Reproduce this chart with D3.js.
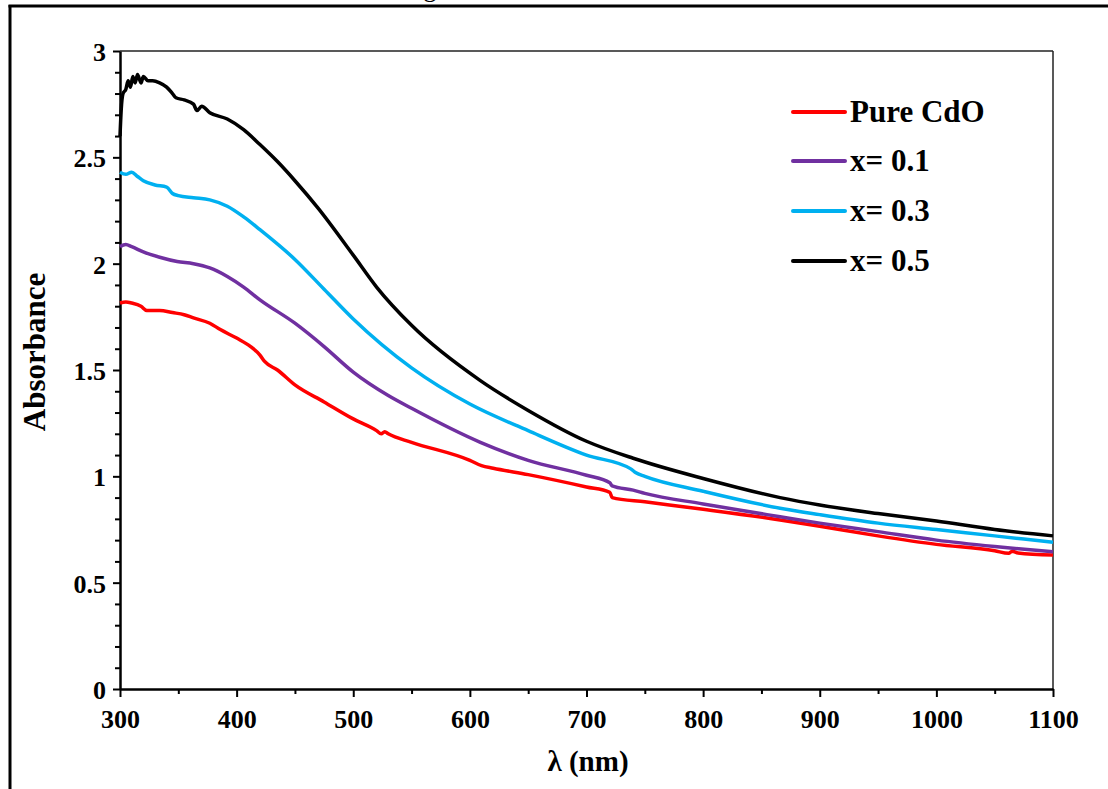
<!DOCTYPE html>
<html><head><meta charset="utf-8">
<script src="https://cdn.jsdelivr.net/npm/d3@7"></script>
<style>body{margin:0;background:#fff}svg{display:block}text{font-family:"Liberation Serif","Times New Roman",serif;font-weight:bold;fill:#000}</style>
</head><body><svg id="c" width="1108" height="789"></svg>
<script>
const seriesNames = ["Pure CdO", "x= 0.1", "x= 0.3", "x= 0.5"];
const seriesColors = ["#ff0000", "#7030a0", "#00b0f0", "#000000"];
const xTicks = [300,400,500,600,700,800,900,1000,1100];
const yTicks = [0,0.5,1,1.5,2,2.5,3];

const redWl =  [300,305,310,318,323,334,345,355,363,377,386,400,412,420,424,435,450,475,500,520,524,527,530,550,600,610,620,650,700,720,722,750,800,866,900,950,1000,1050,1062,1065,1070,1100];
const redAbs = [1.815,1.82,1.815,1.80,1.78,1.78,1.77,1.76,1.745,1.72,1.69,1.65,1.61,1.57,1.54,1.50,1.43,1.35,1.27,1.215,1.20,1.21,1.20,1.16,1.075,1.05,1.038,1.008,0.95,0.925,0.90,0.88,0.845,0.795,0.765,0.72,0.68,0.65,0.638,0.648,0.64,0.63];

const purpleWl =  [300,305,310,320,334,349,363,377,392,406,420,450,475,500,530,550,609,650,700,720,722,740,750,800,866,900,950,1000,1050,1100];
const purpleAbs = [2.08,2.09,2.08,2.055,2.03,2.01,2.00,1.98,1.94,1.89,1.83,1.72,1.61,1.49,1.38,1.32,1.16,1.075,1.005,0.97,0.955,0.935,0.92,0.87,0.81,0.78,0.74,0.70,0.67,0.645];

const blueWl =  [300,305,310,315,320,330,340,345,350,363,377,392,406,420,450,475,500,550,600,650,700,738,742,750,800,866,900,950,1000,1050,1100];
const blueAbs = [2.43,2.42,2.43,2.41,2.39,2.37,2.36,2.33,2.32,2.31,2.30,2.27,2.22,2.16,2.02,1.88,1.74,1.51,1.34,1.215,1.10,1.035,1.018,1.0,0.93,0.85,0.82,0.78,0.75,0.72,0.69];

const blackWl =  [300,301,302.6,305,307,309,311,313,315,318,320,324,328,334,340,345,348,355,363,366,370,377,392,406,420,435,450,470,500,520,550,609,650,700,740,800,866,900,950,1000,1050,1100];
const blackAbs = [2.60,2.72,2.80,2.82,2.86,2.83,2.88,2.85,2.89,2.85,2.88,2.86,2.86,2.85,2.83,2.80,2.78,2.77,2.75,2.72,2.74,2.71,2.68,2.63,2.56,2.48,2.39,2.26,2.04,1.89,1.71,1.45,1.31,1.165,1.085,0.99,0.90,0.865,0.825,0.79,0.75,0.72];

const series = [
  {wl: redWl, abs: redAbs},
  {wl: purpleWl, abs: purpleAbs},
  {wl: blueWl, abs: blueAbs},
  {wl: blackWl, abs: blackAbs}
];

const svg = d3.select("#c");
const L = 120, R = 1053, T = 51, B = 689;
const x = d3.scaleLinear().domain([300,1100]).range([L,R]);
const y = d3.scaleLinear().domain([0,3]).range([B,T]);

// outer frame (clipped figure border)
svg.append("line").attr("x1",10).attr("x2",10).attr("y1",5).attr("y2",789).attr("stroke","#000").attr("stroke-width",3);
svg.append("line").attr("x1",8.5).attr("x2",1108).attr("y1",6).attr("y2",6).attr("stroke","#000").attr("stroke-width",3);
svg.append("text").attr("x",430).attr("y",-3).attr("text-anchor","middle").style("font-size","26px").style("font-weight","normal").text("g");

// plot box top/right
svg.append("line").attr("x1",L).attr("x2",R).attr("y1",T).attr("y2",T).attr("stroke","#222").attr("stroke-width",1.5);
svg.append("line").attr("x1",R).attr("x2",R).attr("y1",T).attr("y2",B).attr("stroke","#222").attr("stroke-width",1.5);

// minor ticks
const gx = svg.append("g").attr("transform",`translate(0,${B})`);
gx.call(d3.axisBottom(x).tickValues(d3.range(350,1100,100)).tickSize(5).tickFormat(""));
const gy = svg.append("g").attr("transform",`translate(${L},0)`);
gy.call(d3.axisLeft(y).tickValues(d3.range(0,30).filter(i=>i%5!==0).map(i=>i/10)).tickSize(5).tickFormat(""));
[gx,gy].forEach(g=>{g.select(".domain").remove();g.selectAll("line").attr("stroke","#000").attr("stroke-width",2);});

// major axes
const ax = svg.append("g").attr("transform",`translate(0,${B})`)
  .call(d3.axisBottom(x).tickValues(xTicks).tickSize(8).tickSizeOuter(0).tickPadding(12).tickFormat(d3.format("d")));
const ay = svg.append("g").attr("transform",`translate(${L},0)`)
  .call(d3.axisLeft(y).tickValues(yTicks).tickSize(7).tickSizeOuter(0).tickPadding(7).tickFormat(d=>String(d)));
[ax,ay].forEach(g=>{
  g.select(".domain").attr("stroke","#000").attr("stroke-width",2.5);
  g.selectAll(".tick line").attr("stroke","#000").attr("stroke-width",2);
  g.selectAll(".tick text").style("font-size","26px").style("font-family",'"Liberation Serif",serif').style("font-weight","bold").attr("fill","#000");
});
ay.selectAll(".tick text").attr("dy","0.36em");
ax.selectAll(".tick text").attr("dy","0.72em");

// lines
const line = d3.line().x(d=>x(d[0])).y(d=>y(d[1])).curve(d3.curveMonotoneX);
series.forEach((s,i)=>{
  const pts = s.wl.map((w,j)=>[w,s.abs[j]]);
  svg.append("path").datum(pts).attr("d",line).attr("fill","none")
    .attr("stroke",seriesColors[i]).attr("stroke-width",3.5).attr("stroke-linejoin","round");
});

// axis titles
svg.append("text").attr("x",588).attr("y",771).attr("text-anchor","middle").style("font-size","29px").text("λ (nm)");
svg.append("text").attr("transform","translate(45,352) rotate(-90)").attr("text-anchor","middle").style("font-size","31px").text("Absorbance");

// legend
const legY = [112,161,211,261];
seriesNames.forEach((n,i)=>{
  svg.append("line").attr("x1",793).attr("x2",845).attr("y1",legY[i]).attr("y2",legY[i])
    .attr("stroke",seriesColors[i]).attr("stroke-width",4).attr("stroke-linecap","round");
  svg.append("text").attr("x",850).attr("y",legY[i]+10).style("font-size","31px").text(n);
});
</script></body></html>
